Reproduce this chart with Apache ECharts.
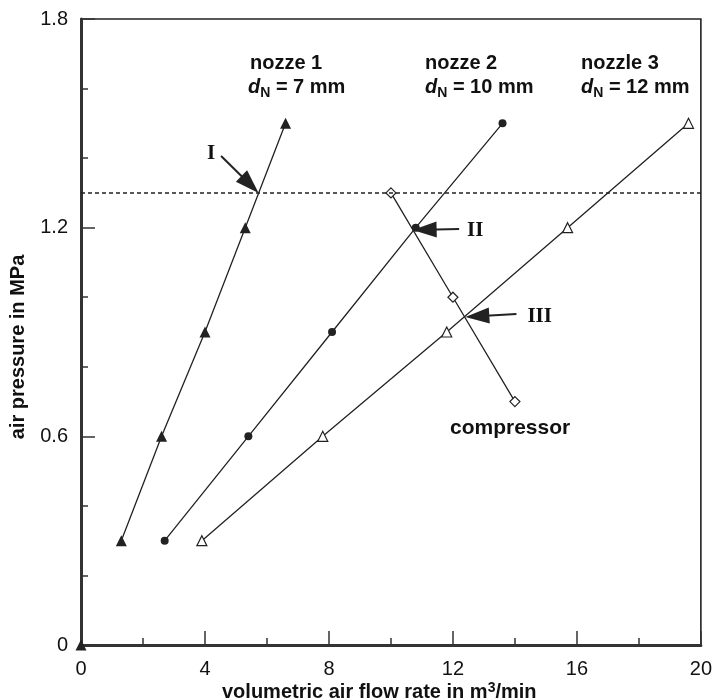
<!DOCTYPE html>
<html>
<head>
<meta charset="utf-8">
<script src="https://cdn.jsdelivr.net/npm/echarts@6/dist/echarts.min.js"></script>
<style>
html,body{margin:0;padding:0;background:#fff;}
#c{width:715px;height:700px;}
</style>
</head>
<body>
<div id="c"></div>
<script>
// ---- data ----
const pressureLevels = [0.3, 0.6, 0.9, 1.2, 1.5];           // MPa
const flowNozzle1 = [1.3, 2.6, 4.0, 5.3, 6.6];             // m3/min, d_N = 7 mm
const flowNozzle2 = [2.7, 5.4, 8.1, 10.8, 13.6];           // d_N = 10 mm
const flowNozzle3 = [3.9, 7.8, 11.8, 15.7, 19.6];          // d_N = 12 mm
const flowCompressor = [10, 12, 14];
const pressureCompressor = [1.3, 1.0, 0.7];
const originPoint = [[0, 0]];
const pressureLimit = 1.3;
const xTicks = [0, 4, 8, 12, 16, 20];
const yTicks = [0, 0.6, 1.2, 1.8];
// annotation arrows (tail -> tip), in data units
const arrowI = [[4.52, 1.406], [5.73, 1.3]];
const arrowII = [[12.2, 1.196], [10.7, 1.193]];
const arrowIII = [[14.05, 0.952], [12.4, 0.943]];
const labelI = [4.2, 1.414];
const labelII = [12.72, 1.193];
const labelIII = [14.8, 0.945];

const zip = (xs, ys) => xs.map((x, i) => [x, ys[i]]);
const INK = '#222';
const FONT = '"Liberation Sans", Arial, Helvetica, sans-serif';
const ARROW_W = 16, ARROW_L = 24;

const chart = echarts.init(document.getElementById('c'), null, {renderer: 'canvas'});

const romanLabel = (pos, text) => ({
  value: pos,
  symbolSize: 0,
  label: {show: true, formatter: text, position: 'inside',
    fontFamily: '"Liberation Serif", "Times New Roman", serif', fontWeight: 'bold', fontSize: 21, color: '#111'}
});

const option = {
  animation: false,
  backgroundColor: '#fff',
  grid: {left: 81, right: 10, top: 19, bottom: 55, show: true, borderColor: INK, borderWidth: 1.6},
  xAxis: {
    type: 'value', min: 0, max: 20, interval: 4,
    axisLine: {show: true, lineStyle: {color: '#333', width: 3}},
    axisTick: {show: true, inside: true, length: 14, lineStyle: {color: '#333', width: 1.5}},
    minorTick: {show: true, splitNumber: 2, length: 7, lineStyle: {color: '#333', width: 1.5}},
    splitLine: {show: false},
    axisLabel: {fontFamily: FONT, fontSize: 20, color: '#111', margin: 14,
      formatter: v => xTicks.includes(v) ? String(v) : ''}
  },
  yAxis: {
    type: 'value', min: 0, max: 1.8, interval: 0.6,
    axisLine: {show: true, lineStyle: {color: '#333', width: 3}},
    axisTick: {show: true, inside: true, length: 14, lineStyle: {color: '#333', width: 1.5}},
    minorTick: {show: true, splitNumber: 3, length: 7, lineStyle: {color: '#333', width: 1.5}},
    splitLine: {show: false},
    axisLabel: {fontFamily: FONT, fontSize: 20, color: '#111', margin: 13,
      formatter: v => {
        const t = yTicks.find(k => Math.abs(k - v) < 1e-9);
        return t === undefined ? '' : (t === 0 ? '0' : t.toFixed(1));
      }}
  },
  series: [
    {
      name: 'nozzle 1', type: 'line', data: zip(flowNozzle1, pressureLevels),
      symbol: 'triangle', symbolSize: 11, showSymbol: true,
      lineStyle: {color: INK, width: 1.3}, itemStyle: {color: INK},
      markLine: {silent: true, symbol: ['none', 'none'], label: {show: false},
        lineStyle: {color: INK, width: 1.5, type: [4, 3]},
        data: [{yAxis: pressureLimit}]}
    },
    {
      name: 'nozzle 2', type: 'line', data: zip(flowNozzle2, pressureLevels),
      symbol: 'circle', symbolSize: 8,
      lineStyle: {color: INK, width: 1.3}, itemStyle: {color: INK}
    },
    {
      name: 'nozzle 3', type: 'line', data: zip(flowNozzle3, pressureLevels),
      symbol: 'triangle', symbolSize: 10,
      lineStyle: {color: INK, width: 1.3}, itemStyle: {color: '#fff', borderColor: INK, borderWidth: 1.2}
    },
    {
      name: 'compressor', type: 'line', data: zip(flowCompressor, pressureCompressor),
      symbol: 'diamond', symbolSize: 10,
      lineStyle: {color: INK, width: 1.3}, itemStyle: {color: '#fff', borderColor: INK, borderWidth: 1.2}
    },
    {
      name: 'origin', type: 'scatter', data: originPoint,
      symbol: 'triangle', symbolSize: 11, itemStyle: {color: INK, opacity: 1}
    },
    {
      name: 'labels', type: 'scatter', silent: true, itemStyle: {opacity: 1},
      data: [romanLabel(labelI, 'I'), romanLabel(labelII, 'II'), romanLabel(labelIII, 'III')]
    }
  ],
  graphic: [
    {type: 'text', left: 250, top: 53, style: {text: 'nozze 1', font: 'bold 20px ' + FONT, fill: '#111'}},
    {type: 'text', left: 425, top: 53, style: {text: 'nozze 2', font: 'bold 20px ' + FONT, fill: '#111'}},
    {type: 'text', left: 581, top: 53, style: {text: 'nozzle 3', font: 'bold 20px ' + FONT, fill: '#111'}},
    ...[['7', 248], ['10', 425], ['12', 581]].map(([d, x]) => ({
      type: 'text', left: x, top: 77,
      style: {
        text: '{d|d}{n|N}{t| = ' + d + ' mm}',
        rich: {
          d: {fontFamily: FONT, fontSize: 20, fontWeight: 'bold', fontStyle: 'italic', fill: '#111', lineHeight: 26, verticalAlign: 'middle'},
          n: {fontFamily: FONT, fontSize: 14, fontWeight: 'bold', fill: '#111', lineHeight: 26, verticalAlign: 'bottom'},
          t: {fontFamily: FONT, fontSize: 20, fontWeight: 'bold', fill: '#111', lineHeight: 26, verticalAlign: 'middle'}
        }
      }
    })),
    {type: 'text', left: 450, top: 418, style: {text: 'compressor', font: 'bold 21px ' + FONT, fill: '#111'}},
    {type: 'text', left: 222, top: 681,
      style: {text: 'volumetric air flow rate in m{sup|3}/min', font: 'bold 20px ' + FONT, fill: '#111',
        rich: {sup: {fontFamily: FONT, fontSize: 14, fontWeight: 'bold', fill: '#111', verticalAlign: 'top', lineHeight: 22}}}},
    {type: 'text', x: 18, y: 347, rotation: Math.PI / 2,
      style: {text: 'air pressure in MPa', font: 'bold 20px ' + FONT, fill: '#111', align: 'center', verticalAlign: 'middle'}}
  ]
};
chart.setOption(option);

// arrows: pull the end point back by half the arrow-head length so that the tip touches the target
const arrowPair = (c) => {
  const p0 = chart.convertToPixel({gridIndex: 0}, c[0]);
  const p1 = chart.convertToPixel({gridIndex: 0}, c[1]);
  const dx = p1[0] - p0[0], dy = p1[1] - p0[1];
  const len = Math.sqrt(dx * dx + dy * dy);
  const e = [p1[0] - dx / len * ARROW_L / 2, p1[1] - dy / len * ARROW_L / 2];
  return [{coord: c[0]}, {coord: chart.convertFromPixel({gridIndex: 0}, e)}];
};
chart.setOption({
  series: [{}, {}, {}, {
    markLine: {silent: true, label: {show: false},
      symbol: ['none', 'triangle'], symbolSize: [ARROW_W, ARROW_L],
      lineStyle: {color: INK, width: 2, type: 'solid'},
      data: [arrowPair(arrowI), arrowPair(arrowII), arrowPair(arrowIII)]}
  }]
});
</script>
</body>
</html>
